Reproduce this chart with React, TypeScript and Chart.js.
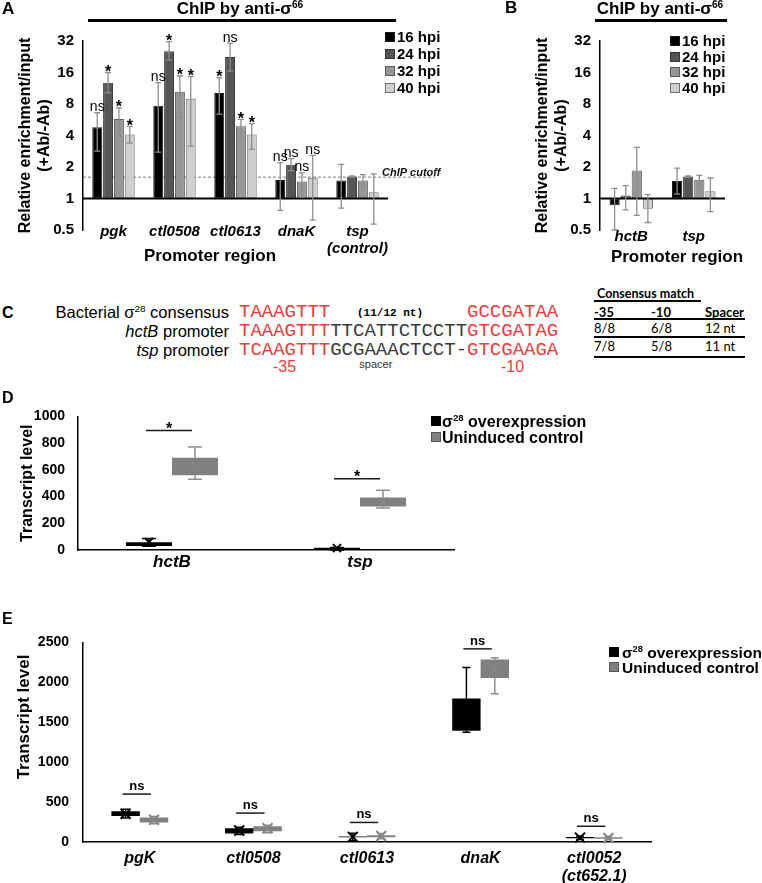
import React, { useEffect, useRef } from 'react';
import { Chart, registerables } from 'chart.js';

Chart.register(...registerables);

const SANS = "'Liberation Sans', Arial, Helvetica, sans-serif";
const MONO = "'Liberation Mono', 'Courier New', monospace";
const TABLE_FONT = "Lato, 'Open Sans', sans-serif";

// ---------- Panels A & B : ChIP (log2 axis) ----------
const HPI_LABELS = ['16 hpi', '24 hpi', '32 hpi', '40 hpi'];
const HPI_COLORS = ['#000000', '#555555', '#979797', '#cfcfcf'];
const HPI_BORDERS = ['#1a1a1a', '#333333', '#5a5a5a', '#707070'];
const LOG_TICKS = [0.5, 1, 2, 4, 8, 16, 32];
const CHIP_CUTOFF = 1.6;

const A_PROMOTERS = ['pgk', 'ctl0508', 'ctl0613', 'dnaK', ['tsp', '(control)']];
const A_16 = [4.8, 7.7, 10.2, 1.5, 1.49];
const A_24 = [12.8, 25.6, 22.5, 2.1, 1.62];
const A_32 = [5.75, 10.5, 4.9, 1.45, 1.49];
const A_40 = [4.1, 9.0, 4.1, 1.58, 1.15];
const A_16_HI = [6.6, 12.8, 14.3, 2.2, 2.12];
const A_24_HI = [16.0, 31.6, 30.6, 2.4, 1.64];
const A_32_HI = [7.35, 14.9, 5.7, 1.76, 1.69];
const A_40_HI = [4.9, 14.6, 5.2, 2.58, 1.72];
const A_16_LO = [2.83, 2.77, 6.4, 0.77, 0.81];
const A_24_LO = [10.2, 21.0, 16.5, 1.85, 1.6];
const A_32_LO = [4.0, 5.9, 3.9, 1.03, 1.28];
const A_40_LO = [3.38, 3.16, 2.95, 0.62, 0.57];
const A_16_SIG = ['ns', 'ns', '*', 'ns', ''];
const A_24_SIG = ['*', '*', 'ns', 'ns', ''];
const A_32_SIG = ['*', '*', '*', 'ns', ''];
const A_40_SIG = ['*', '*', '*', 'ns', ''];

const B_PROMOTERS = ['hctB', 'tsp'];
const B_16 = [0.86, 1.47];
const B_24 = [1.07, 1.62];
const B_32 = [1.85, 1.51];
const B_40 = [0.8, 1.17];
const B_16_HI = [1.25, 1.95];
const B_24_HI = [1.33, 1.64];
const B_32_HI = [3.08, 1.66];
const B_40_HI = [1.09, 1.57];
const B_16_LO = [0.5, 1.1];
const B_24_LO = [0.78, 1.6];
const B_32_LO = [0.69, 1.33];
const B_40_LO = [0.59, 0.75];
const B_SIG = ['', ''];

// ---------- Panel C ----------
const C_ROW_NAMES = ['consensus', 'hctB', 'tsp'];
const C_MINUS35 = ['TAAAGTTT', 'TAAAGTTT', 'TCAAGTTT'];
const C_SPACER = ['            ', 'TTCATTCTCCTT', 'GCGAAACTCCT-'];
const C_MINUS10 = ['GCCGATAA', 'GTCGATAG', 'GTCGAAGA'];
const C_TABLE_HEAD = ['-35', '-10', 'Spacer'];
const C_TABLE_ROWS = [['8/8', '6/8', '12 nt'], ['7/8', '5/8', '11 nt']];

// ---------- Panel D : box plots ----------
const SIGMA_LABELS = ['σ28 overexpression', 'Uninduced control'];
const BOX_COLORS = ['#000000', '#808080'];
const WHISKER_COLORS = ['#000000', '#8e8e8e'];
const MEAN_COLORS = ['#000000', '#868686'];
const D_GENES = ['hctB', 'tsp'];
const D_OVER_Q1 = [30, 3];
const D_OVER_Q3 = [58, 16];
const D_OVER_MIN = [28, 0];
const D_OVER_MAX = [87, 18];
const D_OVER_MEAN = [60, 14];
const D_UNIND_Q1 = [560, 325];
const D_UNIND_Q3 = [690, 393];
const D_UNIND_MIN = [529, 315];
const D_UNIND_MAX = [771, 447];
const D_UNIND_MEAN = [620, 362];
const D_SIG_Y = [894, 534];
const D_SIG = ['*', '*'];
const D_TICKS = [0, 200, 400, 600, 800, 1000];

// ---------- Panel E : box plots ----------
const E_GENES = ['pgK', 'ctl0508', 'ctl0613', 'dnaK', ['ctl0052', '(ct652.1)']];
const E_OVER_Q1 = [326, 105, 60, 1392, 48];
const E_OVER_Q3 = [386, 173, 68, 1796, 62];
const E_OVER_MIN = [300, 95, 15, 1375, 30];
const E_OVER_MAX = [410, 185, 110, 2186, 75];
const E_OVER_MEAN = [354, 145, 64, 1600, 55];
const E_UNIND_Q1 = [245, 136, 60, 2053, 40];
const E_UNIND_Q3 = [306, 197, 85, 2287, 58];
const E_UNIND_MIN = [230, 115, 40, 1856, 30];
const E_UNIND_MAX = [320, 210, 105, 2307, 70];
const E_UNIND_MEAN = [278, 172, 76, 2150, 50];
const E_SIG_Y = [600, 362, 245, 2419, 197];
const E_SIG = ['ns', 'ns', 'ns', 'ns', 'ns'];
const E_TICKS = [0, 500, 1000, 1500, 2000, 2500];

// ---------------------------------------------------------------
function chipPlugin(
  hi: number[][],
  lo: number[][],
  sig: string[][],
  cutoff: number | null,
  labelY: number
) {
  return {
    id: 'chipExtras',
    beforeDatasetsDraw(chart: any) {
      if (cutoff == null) return;
      const { ctx, chartArea, scales } = chart;
      const yc = scales.y.getPixelForValue(cutoff);
      ctx.save();
      ctx.strokeStyle = '#555';
      ctx.lineWidth = 0.8;
      ctx.setLineDash([3, 2]);
      ctx.beginPath();
      ctx.moveTo(chartArea.left, yc);
      ctx.lineTo(chartArea.right + 47, yc);
      ctx.stroke();
      ctx.restore();
    },
    afterDatasetsDraw(chart: any) {
      const { ctx, chartArea, scales } = chart;
      const y = scales.y;
      ctx.save();
      const yb = y.getPixelForValue(1);
      ctx.strokeStyle = '#000';
      ctx.lineWidth = 2;
      ctx.beginPath();
      ctx.moveTo(chartArea.left, yb);
      ctx.lineTo(chartArea.right, yb);
      ctx.stroke();
      chart.data.datasets.forEach((_: any, i: number) => {
        const meta = chart.getDatasetMeta(i);
        meta.data.forEach((bar: any, j: number) => {
          const x = bar.x;
          const yH = y.getPixelForValue(hi[i][j]);
          const yL = y.getPixelForValue(lo[i][j]);
          ctx.strokeStyle = '#8e8e8e';
          ctx.lineWidth = 1.3;
          ctx.beginPath();
          ctx.moveTo(x, yH);
          ctx.lineTo(x, yL);
          ctx.moveTo(x - 3, yH);
          ctx.lineTo(x + 3, yH);
          ctx.moveTo(x - 3, yL);
          ctx.lineTo(x + 3, yL);
          ctx.stroke();
          const s = sig[i][j];
          if (s) {
            const top = Math.min(yH, bar.y);
            ctx.fillStyle = '#000';
            ctx.textAlign = 'center';
            ctx.textBaseline = 'alphabetic';
            if (s === '*') {
              ctx.font = `bold 16px ${SANS}`;
              ctx.fillText(s, x, top + 4.5);
            } else {
              ctx.font = `14px ${SANS}`;
              ctx.fillText(s, x, top - 1.5);
            }
          }
        });
      });
      if (cutoff != null) {
        const yc = y.getPixelForValue(cutoff);
        ctx.fillStyle = '#111';
        ctx.font = `italic bold 11px ${SANS}`;
        ctx.textAlign = 'left';
        ctx.textBaseline = 'alphabetic';
        ctx.fillText('ChIP cutoff', chartArea.right - 6, yc - 1.5);
      }
      // category labels (drawn here so they may sit level with the 0.5 tick)
      const xs = scales.x;
      ctx.fillStyle = '#000';
      ctx.font = `italic bold 15px ${SANS}`;
      ctx.textAlign = 'center';
      ctx.textBaseline = 'middle';
      chart.data.labels.forEach((lab: any, j: number) => {
        const lines = Array.isArray(lab) ? lab : [lab];
        const px = xs.getPixelForValue(j);
        lines.forEach((t: string, k: number) => ctx.fillText(t, px, labelY + k * 17));
      });
      ctx.restore();
    },
  };
}

function chipConfig(
  cats: any[],
  vals: number[][],
  hi: number[][],
  lo: number[][],
  sig: string[][],
  cutoff: number | null,
  o: { right: number; yWidth: number; xHeight: number; labelY: number; titlePad: number }
): any {
  return {
    type: 'bar',
    data: {
      labels: cats,
      datasets: vals.map((v, i) => ({
        label: HPI_LABELS[i],
        data: v.map((d) => [1, d]),
        backgroundColor: HPI_COLORS[i],
        borderColor: HPI_BORDERS[i],
        borderWidth: 1,
        borderSkipped: false,
        categoryPercentage: 0.71,
        barPercentage: 0.92,
      })),
    },
    options: {
      responsive: false,
      animation: false,
      devicePixelRatio: 1,
      layout: { padding: { left: 0, top: 41, right: o.right, bottom: 0 } },
      plugins: { legend: { display: false }, tooltip: { enabled: false } },
      scales: {
        x: {
          grid: { display: false, drawTicks: false },
          border: { display: false },
          ticks: { display: false },
          afterFit: (s: any) => {
            s.height = o.xHeight;
          },
        },
        y: {
          type: 'logarithmic',
          min: 0.5,
          max: 32,
          afterBuildTicks: (s: any) => {
            s.ticks = LOG_TICKS.map((v) => ({ value: v }));
          },
          grid: { display: false, drawTicks: false },
          border: { display: true, color: '#000', width: 1.5 },
          ticks: {
            color: '#000',
            padding: 9,
            font: { family: SANS, size: 15, weight: 'bold' },
            callback: (v: any) => String(v),
          },
          title: {
            display: true,
            text: ['Relative enrichment/input', '(+Ab/-Ab)'],
            color: '#000',
            font: { family: SANS, size: 16, weight: 'bold', lineHeight: 1.2 },
            padding: { top: o.titlePad, bottom: 0 },
          },
          afterFit: (s: any) => {
            s.width = o.yWidth;
          },
        },
      },
    },
    plugins: [chipPlugin(hi, lo, sig, cutoff, o.labelY)],
  };
}

function boxPlugin(
  mins: number[][],
  maxs: number[][],
  means: number[][],
  sigY: number[],
  sigText: string[],
  o: { cap: number; marker: number; sigFont: string; sigLift: number }
) {
  return {
    id: 'boxExtras',
    afterDatasetsDraw(chart: any) {
      const { ctx, scales } = chart;
      const y = scales.y;
      ctx.save();
      chart.data.datasets.forEach((ds: any, i: number) => {
        const meta = chart.getDatasetMeta(i);
        meta.data.forEach((bar: any, j: number) => {
          const x = bar.x;
          const [q1, q3] = ds.data[j];
          const yq1 = y.getPixelForValue(q1);
          const yq3 = y.getPixelForValue(q3);
          const ymin = y.getPixelForValue(mins[i][j]);
          const ymax = y.getPixelForValue(maxs[i][j]);
          ctx.strokeStyle = WHISKER_COLORS[i];
          ctx.lineWidth = 1.5;
          ctx.beginPath();
          ctx.moveTo(x, yq3);
          ctx.lineTo(x, ymax);
          ctx.moveTo(x - o.cap, ymax);
          ctx.lineTo(x + o.cap, ymax);
          ctx.moveTo(x, yq1);
          ctx.lineTo(x, ymin);
          ctx.moveTo(x - o.cap, ymin);
          ctx.lineTo(x + o.cap, ymin);
          ctx.stroke();
          const ym = y.getPixelForValue(means[i][j]);
          const m = o.marker;
          ctx.strokeStyle = MEAN_COLORS[i];
          ctx.lineWidth = 2;
          ctx.beginPath();
          ctx.moveTo(x - m, ym - m);
          ctx.lineTo(x + m, ym + m);
          ctx.moveTo(x - m, ym + m);
          ctx.lineTo(x + m, ym - m);
          ctx.stroke();
        });
      });
      const m0 = chart.getDatasetMeta(0);
      const m1 = chart.getDatasetMeta(1);
      sigY.forEach((v, j) => {
        const x1 = m0.data[j].x - 3;
        const x2 = m1.data[j].x - 3;
        const yy = y.getPixelForValue(v);
        ctx.strokeStyle = '#1a1a1a';
        ctx.lineWidth = 1.5;
        ctx.beginPath();
        ctx.moveTo(x1, yy);
        ctx.lineTo(x2, yy);
        ctx.stroke();
        ctx.fillStyle = '#000';
        ctx.font = o.sigFont;
        ctx.textAlign = 'center';
        ctx.textBaseline = 'alphabetic';
        ctx.fillText(sigText[j], (x1 + x2) / 2, yy - o.sigLift);
      });
      ctx.restore();
    },
  };
}

function boxConfig(
  cats: any[],
  q1: number[][],
  q3: number[][],
  mins: number[][],
  maxs: number[][],
  means: number[][],
  sigY: number[],
  sigText: string[],
  ticks: number[],
  o: {
    right: number;
    yWidth: number;
    xHeight: number;
    xPad: number;
    yPad: number;
    catPct: number;
    labelSize: number;
    title: string | null;
    titlePad: number;
    cap: number;
    marker: number;
    sigFont: string;
    sigLift: number;
  }
): any {
  return {
    type: 'bar',
    data: {
      labels: cats,
      datasets: q1.map((lows, i) => ({
        label: SIGMA_LABELS[i],
        data: lows.map((lv, j) => [lv, q3[i][j]]),
        backgroundColor: BOX_COLORS[i],
        borderWidth: 0,
        categoryPercentage: o.catPct,
        barPercentage: 1,
      })),
    },
    options: {
      responsive: false,
      animation: false,
      devicePixelRatio: 1,
      layout: { padding: { left: 0, top: 15, right: o.right, bottom: 0 } },
      plugins: { legend: { display: false }, tooltip: { enabled: false } },
      scales: {
        x: {
          grid: { display: false, drawTicks: false },
          border: { display: true, color: '#000', width: 1.5 },
          ticks: {
            color: '#000',
            padding: o.xPad,
            maxRotation: 0,
            autoSkip: false,
            font: { family: SANS, size: o.labelSize, weight: 'bold', style: 'italic', lineHeight: 1.15 },
          },
          afterFit: (s: any) => {
            s.height = o.xHeight;
          },
        },
        y: {
          min: ticks[0],
          max: ticks[ticks.length - 1],
          afterBuildTicks: (s: any) => {
            s.ticks = ticks.map((v) => ({ value: v }));
          },
          grid: { display: false, drawTicks: false },
          border: { display: true, color: '#000', width: 1.5 },
          ticks: {
            color: '#000',
            padding: o.yPad,
            font: { family: SANS, size: 14, weight: 'bold' },
            callback: (v: any) => String(v),
          },
          title: {
            display: !!o.title,
            text: o.title || '',
            color: '#000',
            font: { family: SANS, size: 16, weight: 'bold', lineHeight: 1.2 },
            padding: { top: o.titlePad, bottom: 0 },
          },
          afterFit: (s: any) => {
            s.width = o.yWidth;
          },
        },
      },
    },
    plugins: [boxPlugin(mins, maxs, means, sigY, sigText, o)],
  };
}

function ChartCanvas({ left, top, width, height, make }: any) {
  const ref = useRef<HTMLCanvasElement>(null);
  useEffect(() => {
    const chart = new Chart(ref.current as HTMLCanvasElement, make());
    return () => chart.destroy();
  }, []);
  return (
    <canvas
      ref={ref}
      width={width}
      height={height}
      style={{ position: 'absolute', left, top, width, height }}
    />
  );
}

function Txt({ x, y, children, align = 'left', size = 16, weight = 'normal', italic = false, color = '#000', family = SANS }: any) {
  const h = Math.round(size * 1.2);
  const tx = align === 'center' ? '-50%' : align === 'right' ? '-100%' : '0';
  return (
    <div
      style={{
        position: 'absolute',
        left: x,
        top: y - h / 2,
        height: h,
        lineHeight: `${h}px`,
        fontSize: size,
        fontWeight: weight,
        fontStyle: italic ? 'italic' : 'normal',
        color,
        fontFamily: family,
        whiteSpace: 'pre',
        transform: `translateX(${tx})`,
      }}
    >
      {children}
    </div>
  );
}

const Sup = ({ children }: any) => (
  <span style={{ fontSize: '0.6em', position: 'relative', top: '-0.6em' }}>{children}</span>
);

function Rule({ x1, x2, y, w = 1.5 }: any) {
  return <div style={{ position: 'absolute', left: x1, top: y - w / 2, width: x2 - x1, height: w, background: '#000' }} />;
}

function Swatch({ x, y, size, color, border }: any) {
  return (
    <div
      style={{
        position: 'absolute',
        left: x,
        top: y - size / 2,
        width: size,
        height: size,
        boxSizing: 'border-box',
        background: color,
        border: `1px solid ${border}`,
      }}
    />
  );
}

function SigmaLabel({ text }: any) {
  const idx = text.indexOf('28');
  if (idx < 0) return <>{text}</>;
  return (
    <>
      {text.slice(0, idx)}
      <Sup>28</Sup>
      {text.slice(idx + 2)}
    </>
  );
}

export default function App() {
  const CH = 11.4; // monospace advance at 19px
  const seqLeft = 239;
  return (
    <div
      style={{
        position: 'absolute',
        left: 0,
        top: 0,
        width: 762,
        height: 883,
        background: '#fff',
        fontFamily: SANS,
        overflow: 'hidden',
      }}
    >
      {/* Panel A */}
      <ChartCanvas
        left={0}
        top={0}
        width={470}
        height={265}
        make={() =>
          chipConfig(
            A_PROMOTERS,
            [A_16, A_24, A_32, A_40],
            [A_16_HI, A_24_HI, A_32_HI, A_40_HI],
            [A_16_LO, A_24_LO, A_32_LO, A_40_LO],
            [A_16_SIG, A_24_SIG, A_32_SIG, A_40_SIG],
            CHIP_CUTOFF,
            { right: 82, yWidth: 83, xHeight: 35, labelY: 232, titlePad: 16 }
          )
        }
      />
      {/* Panel B */}
      <ChartCanvas
        left={470}
        top={0}
        width={292}
        height={265}
        make={() =>
          chipConfig(
            B_PROMOTERS,
            [B_16, B_24, B_32, B_40],
            [B_16_HI, B_24_HI, B_32_HI, B_40_HI],
            [B_16_LO, B_24_LO, B_32_LO, B_40_LO],
            [B_SIG, B_SIG, B_SIG, B_SIG],
            null,
            { right: 37, yWidth: 130, xHeight: 35, labelY: 237, titlePad: 63 }
          )
        }
      />
      {/* Panel D */}
      <ChartCanvas
        left={0}
        top={395}
        width={470}
        height={185}
        make={() =>
          boxConfig(
            D_GENES,
            [D_OVER_Q1, D_UNIND_Q1],
            [D_OVER_Q3, D_UNIND_Q3],
            [D_OVER_MIN, D_UNIND_MIN],
            [D_OVER_MAX, D_UNIND_MAX],
            [D_OVER_MEAN, D_UNIND_MEAN],
            D_SIG_Y,
            D_SIG,
            D_TICKS,
            {
              right: 16,
              yWidth: 78,
              xHeight: 30,
              xPad: 3,
              yPad: 13,
              catPct: 0.49,
              labelSize: 17,
              title: 'Transcript level',
              titlePad: 18,
              cap: 7,
              marker: 4,
              sigFont: `bold 16px ${SANS}`,
              sigLift: -3,
            }
          )
        }
      />
      {/* Panel E */}
      <ChartCanvas
        left={0}
        top={620}
        width={762}
        height={263}
        make={() =>
          boxConfig(
            E_GENES,
            [E_OVER_Q1, E_UNIND_Q1],
            [E_OVER_Q3, E_UNIND_Q3],
            [E_OVER_MIN, E_UNIND_MIN],
            [E_OVER_MAX, E_UNIND_MAX],
            [E_OVER_MEAN, E_UNIND_MEAN],
            E_SIG_Y,
            E_SIG,
            E_TICKS,
            {
              right: 111,
              yWidth: 83,
              xHeight: 41,
              xPad: 7,
              yPad: 14,
              catPct: 0.5,
              labelSize: 16,
              title: null,
              titlePad: 0,
              cap: 4,
              marker: 5,
              sigFont: `bold 13px ${SANS}`,
              sigLift: 4,
            }
          )
        }
      />

      {/* Panel letters */}
      <Txt x={2} y={9} size={17} weight="bold">A</Txt>
      <Txt x={505} y={8} size={17} weight="bold">B</Txt>
      <Txt x={2} y={312} size={16} weight="bold">C</Txt>
      <Txt x={2} y={397} size={16} weight="bold">D</Txt>
      <Txt x={2} y={618} size={16} weight="bold">E</Txt>

      {/* A header & legend */}
      <Txt x={240} y={9} size={17} weight="bold" align="center">
        ChIP by anti-σ<Sup>66</Sup>
      </Txt>
      <Rule x1={88} x2={396} y={20} w={3} />
      {HPI_LABELS.map((l, i) => (
        <React.Fragment key={'la' + i}>
          <Swatch x={385} y={37 + i * 17} size={10} color={HPI_COLORS[i]} border={HPI_BORDERS[i]} />
          <Txt x={397} y={37 + i * 17} size={15} weight="bold">{l}</Txt>
        </React.Fragment>
      ))}
      <Txt x={210} y={256} size={17} weight="bold" align="center">Promoter region</Txt>

      {/* B header & legend */}
      <Txt x={660} y={9} size={17} weight="bold" align="center">
        ChIP by anti-σ<Sup>66</Sup>
      </Txt>
      <Rule x1={595} x2={727} y={20} w={3} />
      {HPI_LABELS.map((l, i) => (
        <React.Fragment key={'lb' + i}>
          <Swatch x={670} y={41 + i * 15.7} size={10} color={HPI_COLORS[i]} border={HPI_BORDERS[i]} />
          <Txt x={682} y={41 + i * 15.7} size={15} weight="bold">{l}</Txt>
        </React.Fragment>
      ))}
      <Txt x={677} y={257} size={17} weight="bold" align="center">Promoter region</Txt>

      {/* Panel C */}
      {C_ROW_NAMES.map((name, i) => {
        const y = 312 + i * 19;
        const label =
          i === 0 ? (
            <>Bacterial σ<Sup>28</Sup> consensus</>
          ) : (
            <>
              <i>{name}</i> promoter
            </>
          );
        return (
          <React.Fragment key={'c' + i}>
            <Txt x={229} y={y} size={16.5} align="right">{label}</Txt>
            <Txt x={seqLeft} y={y} size={19} family={MONO}>
              <span style={{ color: '#ee3b3b' }}>{C_MINUS35[i]}</span>
              <span style={{ color: '#3a3a3a' }}>{C_SPACER[i]}</span>
              <span style={{ color: '#ee3b3b' }}>{C_MINUS10[i]}</span>
            </Txt>
          </React.Fragment>
        );
      })}
      <Txt x={357} y={313} size={11} weight="bold" family={MONO}>(11/12 nt)</Txt>
      <Txt x={seqLeft + 4 * CH} y={366} size={16} align="center" color="#ee3b3b">-35</Txt>
      <Txt x={seqLeft + 12 * CH} y={364} size={11} align="center" color="#333">spacer</Txt>
      <Txt x={seqLeft + 24 * CH} y={366} size={16} align="center" color="#ee3b3b">-10</Txt>

      {/* Consensus table */}
      <Txt x={597} y={293} size={12.5} weight="bold" family={TABLE_FONT}>Consensus match</Txt>
      <Rule x1={594} x2={701} y={301} w={1.5} />
      {C_TABLE_HEAD.map((h, k) => (
        <Txt key={'th' + k} x={[594, 651, 705][k]} y={312} size={13} weight="bold" family={TABLE_FONT}>{h}</Txt>
      ))}
      <Rule x1={594} x2={745} y={319} w={2} />
      {C_TABLE_ROWS.map((row, r) =>
        row.map((cell, k) => (
          <Txt key={'tr' + r + k} x={[594, 651, 705][k]} y={328 + r * 17.5} size={13} family={TABLE_FONT}>{cell}</Txt>
        ))
      )}
      <Rule x1={594} x2={745} y={337} w={1.5} />
      <Rule x1={594} x2={745} y={357} w={2} />

      {/* Panel D legend */}
      {SIGMA_LABELS.map((l, i) => (
        <React.Fragment key={'ld' + i}>
          <Swatch x={431} y={421 + i * 16} size={10} color={BOX_COLORS[i]} border={i === 0 ? '#000' : '#555'} />
          <Txt x={442} y={421 + i * 16} size={16} weight="bold"><SigmaLabel text={l} /></Txt>
        </React.Fragment>
      ))}

      {/* Panel E legend & y title */}
      {SIGMA_LABELS.map((l, i) => (
        <React.Fragment key={'le' + i}>
          <Swatch x={609} y={652 + i * 15} size={10} color={BOX_COLORS[i]} border={i === 0 ? '#000' : '#555'} />
          <Txt x={622} y={652 + i * 15} size={15.5} weight="bold"><SigmaLabel text={l} /></Txt>
        </React.Fragment>
      ))}
      <div
        style={{
          position: 'absolute',
          left: 24,
          top: 717,
          transform: 'translate(-50%, -50%) rotate(-90deg)',
          fontFamily: SANS,
          fontWeight: 'bold',
          fontSize: 17,
          lineHeight: '20px',
          whiteSpace: 'nowrap',
          color: '#000',
        }}
      >
        Transcript level
      </div>
    </div>
  );
}
